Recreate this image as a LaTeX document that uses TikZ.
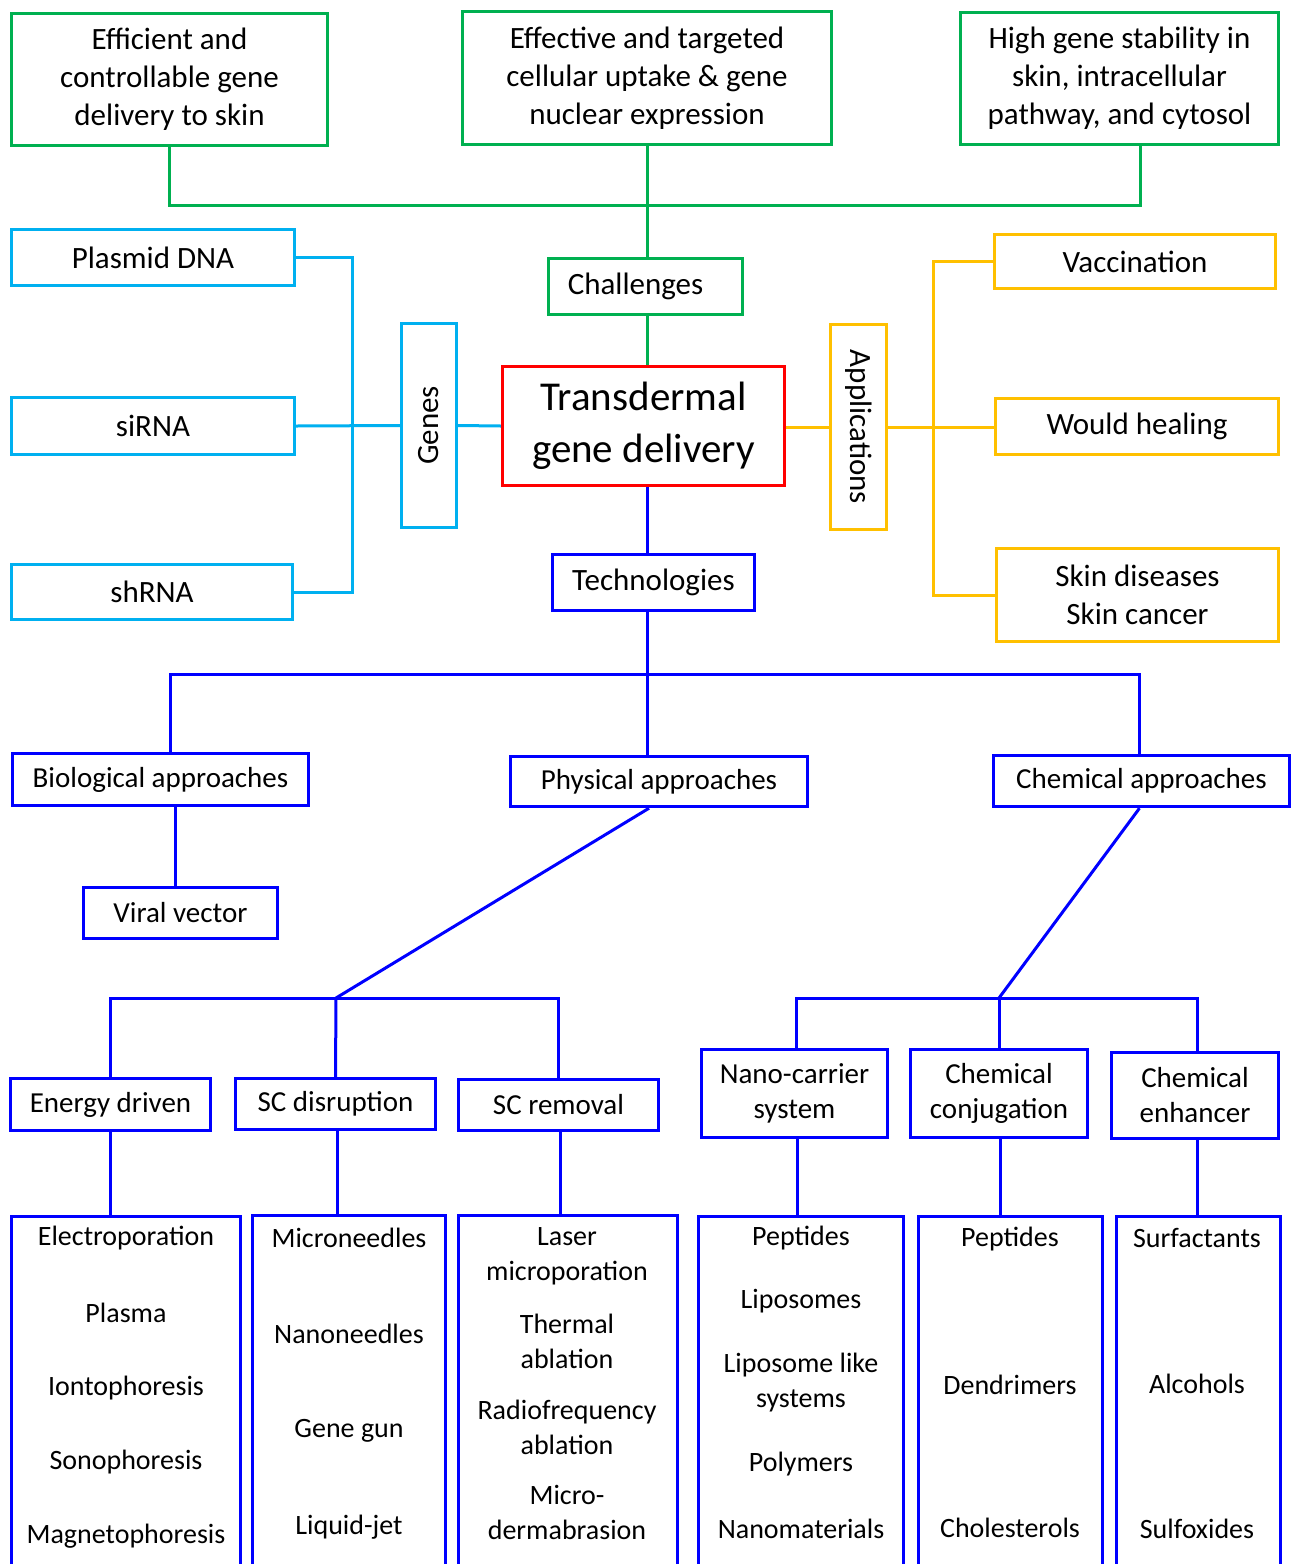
\documentclass[tikz,border=0pt]{standalone}
\usepackage{fontspec}
\setmainfont{Carlito}
\usetikzlibrary{calc}
\definecolor{mapgreen}{RGB}{0,176,80}
\definecolor{mapcyan}{RGB}{0,176,240}
\definecolor{mapred}{RGB}{255,0,0}
\definecolor{mapgold}{RGB}{255,192,0}
\definecolor{mapblue}{RGB}{0,0,255}
\tikzset{
  box/.style={draw, line width=3.4pt, inner sep=0pt, align=center},
  upper/.style={font=\fontsize{31}{38}\selectfont},
  middle/.style={font=\fontsize{29}{35}\selectfont},
  lower/.style={font=\fontsize{28}{35}\selectfont},
  gbox/.style={box, upper, draw=mapgreen},
  cbox/.style={box, upper, draw=mapcyan},
  ybox/.style={box, upper, draw=mapgold},
  bbox/.style={box, upper, draw=mapblue},
  lbox/.style={box, middle, draw=mapblue},
  listbox/.style={box, draw=mapblue, anchor=north, minimum height=400},
  entry/.style={lower, align=center, inner sep=0pt},
  glink/.style={draw=mapgreen, line width=3pt},
  clink/.style={draw=mapcyan, line width=3pt},
  ylink/.style={draw=mapgold, line width=3pt},
  blink/.style={draw=mapblue, line width=3pt}
}
\begin{document}
\begin{tikzpicture}[x=1pt,y=-1pt]
  \useasboundingbox (0,0) rectangle (1293,1564);
  \clip (0,0) rectangle (1293,1564);
  % challenges
  \node[gbox, minimum width=316, minimum height=132] (effic) at (169.5,79.5) {Efficient and\\controllable gene\\delivery to skin};
  \node[gbox, minimum width=369, minimum height=133] (uptake) at (647,78) {Effective and targeted\\cellular uptake \& gene\\nuclear expression};
  \node[gbox, minimum width=318, minimum height=132] (stabil) at (1119.5,78.5) {High gene stability in\\skin, intracellular\\pathway, and cytosol};
  \node[gbox, minimum width=194, minimum height=56] (chall) at (645.5,286.5) {Challenges\hspace*{20pt}};
  % centre
  \node[box, draw=mapred, minimum width=282, minimum height=119, font=\fontsize{41}{52}\selectfont] (trans) at (643.5,426) {Transdermal\\gene delivery};
  % genes
  \node[cbox, minimum width=55, minimum height=204] (genes) at (429,425.5) {\rotatebox{90}{Genes}};
  \node[cbox, minimum width=283, minimum height=56] (plasmid) at (153,257.5) {Plasmid DNA};
  \node[cbox, minimum width=283, minimum height=57] (sirna) at (153,426) {siRNA};
  \node[cbox, minimum width=281, minimum height=55] (shrna) at (152,592) {shRNA};
  % applications
  \node[ybox, minimum width=56, minimum height=205] (apps) at (858.5,427) {\rotatebox{-90}{Applications}};
  \node[ybox, minimum width=281, minimum height=54] (vacc) at (1135,261.5) {Vaccination};
  \node[ybox, minimum width=283, minimum height=56] (heal) at (1137,426.5) {Would healing};
  \node[ybox, minimum width=282, minimum height=93] (skin) at (1137.5,595) {Skin diseases\\Skin cancer};
  % technologies
  \node[bbox, minimum width=202, minimum height=56] (tech) at (653.5,582.5) {Technologies};
  \node[lbox, minimum width=296, minimum height=52] (bio) at (160.5,779.5) {Biological approaches};
  \node[lbox, minimum width=297, minimum height=50] (phys) at (659,781.5) {Physical approaches};
  \node[lbox, minimum width=296, minimum height=51] (chem) at (1141.5,781) {Chemical approaches};
  \node[lbox, minimum width=194, minimum height=51] (viral) at (180.5,913) {Viral vector};
  \node[lbox, minimum width=200, minimum height=52] (energy) at (110.5,1104.5) {Energy driven};
  \node[lbox, minimum width=200, minimum height=51] (scdis) at (335.5,1104) {SC disruption};
  \node[lbox, minimum width=200, minimum height=51] (screm) at (558.5,1105) {SC removal};
  \node[lbox, minimum width=186, minimum height=88] (nano) at (794.5,1093.5) {Nano-carrier\\system};
  \node[lbox, minimum width=177, minimum height=88] (conj) at (999,1093.5) {Chemical\\conjugation};
  \node[lbox, minimum width=167, minimum height=86] (enh) at (1195,1095.5) {Chemical\\enhancer};
  % lists
  \node[listbox, minimum width=229] (energylist) at (126,1214.5) {};
  \node[listbox, minimum width=193] (dislist) at (349,1214) {};
  \node[listbox, minimum width=219] (remlist) at (568,1214) {};
  \node[listbox, minimum width=205] (nanolist) at (801,1214.5) {};
  \node[listbox, minimum width=184] (conjlist) at (1010.5,1214.5) {};
  \node[listbox, minimum width=164] (enhlist) at (1198.5,1214.5) {};
  \foreach \t/\y in {Electroporation/1238,Plasma/1313,Iontophoresis/1388,Sonophoresis/1462,Magnetophoresis/1536}
    \node[entry] at (126,\y) {\t};
  \foreach \t/\y in {Microneedles/1238,Nanoneedles/1334,Gene gun/1431,Liquid-jet/1527}
    \node[entry] at (349,\y) {\t};
  \foreach \t/\y in {{Laser\\microporation}/1256,{Thermal\\ablation}/1341,{Radiofrequency\\ablation}/1427,{Micro-\\dermabrasion}/1512}
    \node[entry] at (567,\y) {\t};
  \foreach \t/\y in {Peptides/1238,Liposomes/1301,{Liposome like\\systems}/1383,Polymers/1464,Nanomaterials/1529}
    \node[entry] at (801,\y) {\t};
  \foreach \t/\y in {Peptides/1239,Dendrimers/1385,Cholesterols/1528}
    \node[entry] at (1010,\y) {\t};
  \foreach \t/\y in {Surfactants/1238,Alcohols/1384,Sulfoxides/1529}
    \node[entry] at (1197,\y) {\t};
  % buses
  \coordinate (gbus) at (647,205);
  \coordinate (cbus) at (352,426);
  \coordinate (ybus) at (933,427);
  \coordinate (tbus) at (647,674);
  \coordinate (pbus) at (336,998);
  \coordinate (kbus) at (999,998);
  % green links
  \draw[glink] (effic.south) |- (gbus) -| ([xshift=21pt]stabil.south);
  \draw[glink] (uptake.south) -- (chall.north -| uptake.south);
  \draw[glink] (chall.south -| uptake.south) -- (trans.north -| uptake.south);
  % cyan links
  \draw[clink] (plasmid.east) -| (cbus) |- (shrna.east);
  \draw[clink] (sirna.east) -- (genes.west);
  \draw[clink] (genes.east) -- (trans.west);
  % yellow links
  \draw[ylink] (trans.east |- apps.west) -- (apps.west);
  \draw[ylink] (vacc.west) -| (ybus) |- (skin.west);
  \draw[ylink] (apps.east) -- (apps.east -| heal.west);
  % blue links
  \draw[blink] (trans.south -| tbus) -- (tech.north -| tbus);
  \draw[blink] (tech.south -| tbus) -- (phys.north -| tbus);
  \draw[blink] ([xshift=10pt]bio.north) |- (tbus) -| ([xshift=-2pt]chem.north);
  \draw[blink] ([xshift=15pt]bio.south) -- ([xshift=15pt]bio.south |- viral.north);
  \draw[blink] ([xshift=-10pt]phys.south) -- (pbus);
  \draw[blink] (energy.north) |- (pbus) -| (screm.north);
  \draw[blink] (pbus) -- (scdis.north);
  \draw[blink] ([xshift=-2pt]chem.south) -- (kbus);
  \draw[blink] ([xshift=2pt]nano.north) |- (kbus) -| ([xshift=2pt]enh.north);
  \draw[blink] (kbus) -- (conj.north);
  \draw[blink] (energy.south) -- (energy.south |- energylist.north);
  \draw[blink] ([xshift=2pt]scdis.south) -- ([xshift=2pt]scdis.south |- dislist.north);
  \draw[blink] ([xshift=2pt]screm.south) -- ([xshift=2pt]screm.south |- remlist.north);
  \draw[blink] ([xshift=3pt]nano.south) -- ([xshift=3pt]nano.south |- nanolist.north);
  \draw[blink] ([xshift=1pt]conj.south) -- ([xshift=1pt]conj.south |- conjlist.north);
  \draw[blink] ([xshift=2pt]enh.south) -- ([xshift=2pt]enh.south |- enhlist.north);
\end{tikzpicture}
\end{document}
